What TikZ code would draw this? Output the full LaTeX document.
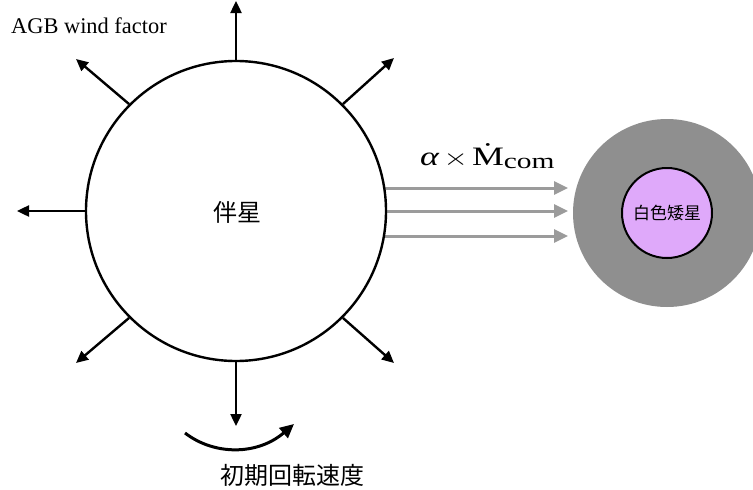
\documentclass[tikz,border=0pt]{standalone}
\usepackage{fontspec}
\setmainfont{Liberation Serif}
\newfontfamily\cjk{Noto Sans CJK JP}
\usetikzlibrary{arrows.meta}
\definecolor{flowgray}{HTML}{9B9B9B}
\definecolor{diskgray}{HTML}{8F8F8F}
\definecolor{wdviolet}{HTML}{DFA9FA}
\begin{document}
\begin{tikzpicture}[x=1pt,y=-1pt,
  windarrow/.style={line width=2.4pt, -{Triangle[length=12pt,width=11pt]}},
  flowarrow/.style={draw=flowgray, line width=3pt, -{Triangle[length=14pt,width=13pt]}},
  rotarrow/.style={line width=3pt, -{Triangle[length=14pt,width=13pt]}},
  cjklabel/.style={font=\cjk\fontsize{#1}{#1}\selectfont, inner sep=0pt}]
\useasboundingbox (0,0) rectangle (753,490);
% flows (drawn first)
\coordinate (f1s) at (380,188); \coordinate (f1e) at (568,188);
\coordinate (f2s) at (380,211); \coordinate (f2e) at (568,211);
\coordinate (f3s) at (380,236); \coordinate (f3e) at (568,236);
\draw[flowarrow] (f1s) -- (f1e);
\draw[flowarrow] (f2s) -- (f2e);
\draw[flowarrow] (f3s) -- (f3e);
% companion star
\node[circle, draw, fill=white, line width=2.4pt, minimum size=300pt, inner sep=0pt] (comp) at (236,211) {};
\node[cjklabel=24] (complabel) at (237,212) {伴星};
% wind arrows
\coordinate (wN) at (236,1);
\coordinate (wS) at (236,426);
\coordinate (wW) at (17,211);
\coordinate (wNW) at (76,59);
\coordinate (wNE) at (394,58);
\coordinate (wSW) at (76,363);
\coordinate (wSE) at (394,363);
\draw[windarrow] (comp.north) -- (wN);
\draw[windarrow] (comp.south) -- (wS);
\draw[windarrow] (comp.west) -- (wW);
\draw[windarrow] (comp.135) -- (wNW);
\draw[windarrow] (comp.45) -- (wNE);
\draw[windarrow] (comp.225) -- (wSW);
\draw[windarrow] (comp.315) -- (wSE);
\node[anchor=base west, font=\fontsize{22.4}{22.4}\selectfont, inner sep=0pt] (agb) at (11,33) {AGB wind factor};
% white dwarf
\node[circle, fill=diskgray, minimum size=188pt, inner sep=0pt] (disk) at (667,213) {};
\node[circle, draw, line width=2pt, fill=wdviolet, minimum size=90pt, inner sep=0pt, cjklabel=17] (wd) at (667,213) {白色矮星};
% flow label
\node[anchor=base west, font=\fontsize{28}{28}\selectfont, inner sep=0pt] (flowlabel) at (420,165) {\scalebox{1.28}[0.95]{\textit{α}\hspace{3pt}\(\times\)\hspace{3pt}\.{M}\raisebox{-4pt}{\fontsize{23}{23}\selectfont com}}};
% rotation
\coordinate (rotS) at (185,433);
\coordinate (rotE) at (294,424);
\draw[rotarrow] (rotS) .. controls (215,456) and (258,455) .. (rotE);
\node[cjklabel=24] (rotlabel) at (292,475) {初期回転速度};
\end{tikzpicture}
\end{document}
